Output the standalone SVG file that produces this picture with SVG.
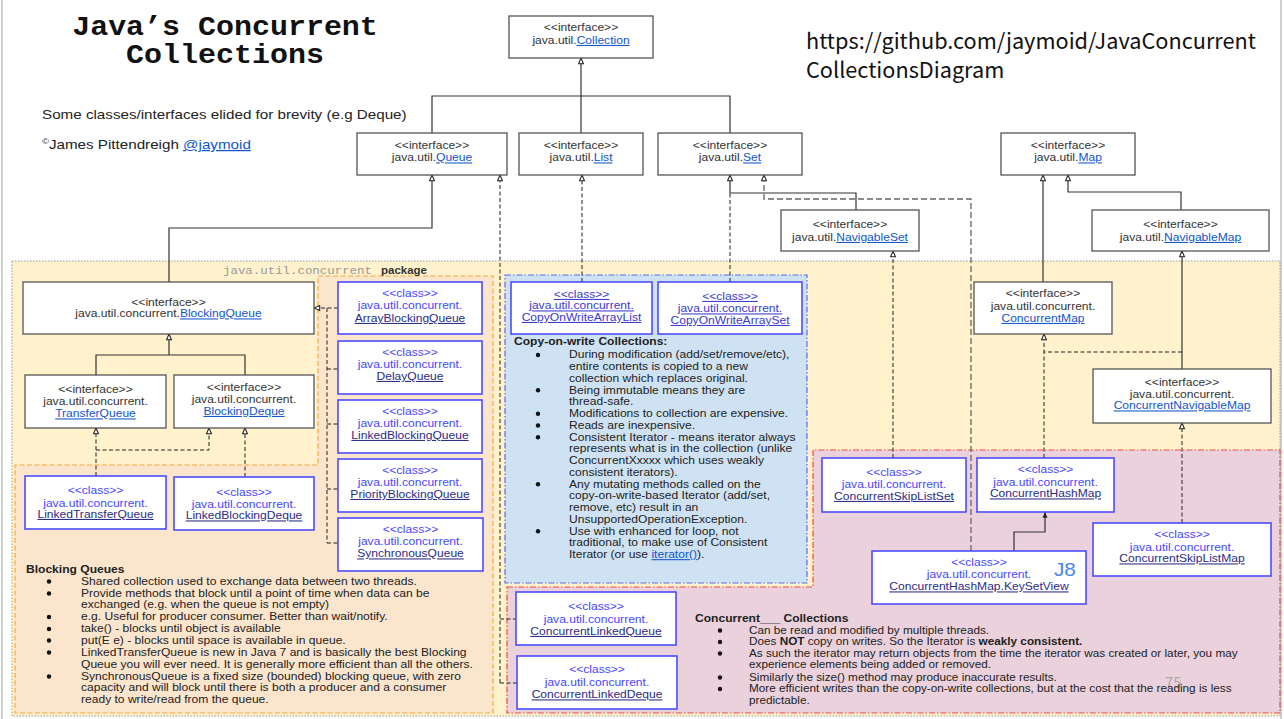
<svg xmlns="http://www.w3.org/2000/svg" width="1284" height="719" viewBox="0 0 1284 719">
<style>
text{font-family:"Liberation Sans",Arial,sans-serif}
.mono{font-family:"Liberation Mono","Courier New",monospace}
.cjk{font-family:"Noto Sans CJK SC","Noto Sans",sans-serif}
.ib{fill:#fff;stroke:#555;stroke-width:1.3}
.cb{fill:#fff;stroke:#4d4dff;stroke-width:1.6}
.t{font-size:10.5px;fill:#333;text-anchor:middle}
.lk{fill:#1155cc;text-decoration:underline}
.cl{fill:#4747ff}
.cn{fill:#2b2b85;text-decoration:underline}
.cw{fill:#3a3ad0;text-decoration:underline}
.b{font-size:10.5px;fill:#222}
.bh{font-size:10.5px;fill:#222;font-weight:bold}
.s{fill:none;stroke:#333;stroke-width:1.2}
.d{fill:none;stroke:#222;stroke-width:1;stroke-dasharray:4 2.5}
.dg{fill:none;stroke:#666;stroke-width:1.3;stroke-dasharray:6 3}
.bu{fill:#111}
</style>
<defs>
<marker id="ah" viewBox="0 0 8 8" refX="7.5" refY="4" markerWidth="7" markerHeight="7" markerUnits="userSpaceOnUse" orient="auto"><path d="M1,1.2 L7.5,4 L1,6.8 z" fill="#fff" stroke="#222" stroke-width="1.2"/></marker>
<marker id="ahf" viewBox="0 0 8 8" refX="7.5" refY="4" markerWidth="7" markerHeight="7" markerUnits="userSpaceOnUse" orient="auto"><path d="M1,1.2 L7.5,4 L1,6.8 z" fill="#222"/></marker>
</defs>
<rect width="1284" height="719" fill="#fff"/>
<line x1="2" y1="0" x2="2" y2="719" stroke="#cfcfcf" stroke-width="2"/>
<line x1="1281" y1="0" x2="1281" y2="719" stroke="#cfcfcf" stroke-width="2"/>

<!-- regions -->
<g id="regions">
<rect x="12" y="261" width="1268" height="455" fill="#fff2cc" stroke="#999" stroke-width="1" stroke-dasharray="1.5 1.5"/>
<path d="M318 276 H493 V713 H15 V465 H318 Z" fill="#fce5cd" stroke="#f5a742" stroke-width="1.2" stroke-dasharray="5 2.5"/>
<rect x="505" y="275" width="302" height="308" fill="#cfe2f3" stroke="#5a6cf0" stroke-width="1.2" stroke-dasharray="6 2 1.5 2"/>
<path d="M507 587 H813 V450 H1280 V713 H507 Z" fill="#ead1dc" stroke="#f04848" stroke-width="1.2" stroke-dasharray="6 2 1.5 2"/>
<g transform="matrix(1.13 0 0 1 223 0)"><text class="mono" x="0" y="274" font-size="11" fill="#999">java.util.concurrent</text></g>
<g transform="matrix(1.15 0 0 1 381 0)"><text x="0" y="274" font-size="10" font-weight="bold" fill="#333">package</text></g>
</g>

<!-- header texts -->
<g id="title">
<g transform="matrix(1.11 0 0 1 225 0)" font-weight="bold" font-size="27" fill="#111" text-anchor="middle">
<text class="mono" x="0" y="35">Java’s Concurrent</text>
<text class="mono" x="0" y="63.5">Collections</text>
</g>
<g transform="matrix(1.17 0 0 1 42 0)" font-size="13" fill="#222">
<text x="0" y="119.5">Some classes/interfaces elided for brevity (e.g Deque)</text>
<text x="0" y="149"><tspan font-size="8" dy="-5">©</tspan><tspan dy="5">James Pittendreigh </tspan><tspan class="lk">@jaymoid</tspan></text>
</g>
<text class="cjk" x="806" y="48.5" font-size="21.7" fill="#111">https://github.com/jaymoid/JavaConcurrent</text>
<text class="cjk" x="806" y="78" font-size="21.7" fill="#111">CollectionsDiagram</text>
<text class="cjk" x="1165" y="688" font-size="15" fill="#aaa">75</text>
</g>

<!-- connectors -->
<g id="connectors">
<path class="s" d="M432 133 V96 H730 V133"/>
<path class="s" d="M581 133 V58" marker-end="url(#ah)"/>
<path class="s" d="M169 282 V228 H432 V175" marker-end="url(#ah)"/>
<path class="s" d="M96 375 V355 H245 V375"/>
<path class="s" d="M169 355 V334" marker-end="url(#ah)"/>
<path class="s" d="M856 210 V193 H730 V175" marker-end="url(#ah)"/>
<path class="s" d="M1043 282 V175" marker-end="url(#ah)"/>
<path class="s" d="M1181 210 V192 H1068 V175" marker-end="url(#ah)"/>
<path class="s" d="M1182 369 V251" marker-end="url(#ah)"/>
<path class="s" d="M1014 551 V532 H1045 V512" marker-end="url(#ahf)"/>
<path class="d" d="M1182 352 H1044 V334" marker-end="url(#ah)"/>
<path class="d" d="M1044 458 V352"/>
<path class="d" d="M1182 523 V423" marker-end="url(#ah)"/>
<path class="d" d="M893 458 V251" marker-end="url(#ah)"/>
<path class="dg" d="M971 551 V199 H764 V175" marker-end="url(#ah)"/>
<path class="d" d="M730 282 V193"/>
<path class="d" d="M582 282 V175" marker-end="url(#ah)"/>
<path class="d" d="M500 683 V175" marker-end="url(#ah)"/>
<path class="d" d="M500 619 H516 M500 683 H517"/>
<path class="d" d="M338 308 H314" marker-end="url(#ah)"/>
<path class="d" d="M327 308 V543 M327 369 H338 M327 424 H338 M327 489 H338 M327 543 H338"/>
<path class="d" d="M96 476 V428" marker-end="url(#ah)"/>
<path class="d" d="M96 450 H209 V428" marker-end="url(#ah)"/>
<path class="d" d="M245 477 V428" marker-end="url(#ah)"/>
</g>

<!-- interface nodes -->
<g id="n-collection"><rect class="ib" x="509" y="16" width="144" height="42"/><g transform="matrix(1.15 0 0 1 581 0)"><text class="t" y="31">&lt;&lt;interface&gt;&gt;</text><text class="t" y="44">java.util.<tspan class="lk">Collection</tspan></text></g></g>
<g id="n-queue"><rect class="ib" x="357" y="133" width="150" height="42"/><g transform="matrix(1.15 0 0 1 432 0)"><text class="t" y="149">&lt;&lt;interface&gt;&gt;</text><text class="t" y="161.5">java.util.<tspan class="lk">Queue</tspan></text></g></g>
<g id="n-list"><rect class="ib" x="519" y="133" width="124" height="42"/><g transform="matrix(1.15 0 0 1 581 0)"><text class="t" y="149">&lt;&lt;interface&gt;&gt;</text><text class="t" y="161.5">java.util.<tspan class="lk">List</tspan></text></g></g>
<g id="n-set"><rect class="ib" x="658" y="133" width="144" height="42"/><g transform="matrix(1.15 0 0 1 730 0)"><text class="t" y="149">&lt;&lt;interface&gt;&gt;</text><text class="t" y="161.5">java.util.<tspan class="lk">Set</tspan></text></g></g>
<g id="n-map"><rect class="ib" x="1001" y="133" width="134" height="42"/><g transform="matrix(1.15 0 0 1 1068 0)"><text class="t" y="149">&lt;&lt;interface&gt;&gt;</text><text class="t" y="161.5">java.util.<tspan class="lk">Map</tspan></text></g></g>
<g id="n-navset"><rect class="ib" x="781" y="210" width="138" height="41"/><g transform="matrix(1.15 0 0 1 850 0)"><text class="t" y="228">&lt;&lt;interface&gt;&gt;</text><text class="t" y="241">java.util.<tspan class="lk">NavigableSet</tspan></text></g></g>
<g id="n-navmap"><rect class="ib" x="1092" y="210" width="177" height="41"/><g transform="matrix(1.15 0 0 1 1180.5 0)"><text class="t" y="228">&lt;&lt;interface&gt;&gt;</text><text class="t" y="241">java.util.<tspan class="lk">NavigableMap</tspan></text></g></g>
<g id="n-bq"><rect class="ib" x="23" y="282" width="291" height="52"/><g transform="matrix(1.15 0 0 1 168.5 0)"><text class="t" y="306">&lt;&lt;interface&gt;&gt;</text><text class="t" y="317.5">java.util.concurrent.<tspan class="lk">BlockingQueue</tspan></text></g></g>
<g id="n-tq"><rect class="ib" x="25" y="375" width="141" height="53"/><g transform="matrix(1.15 0 0 1 95.5 0)"><text class="t" y="393.5">&lt;&lt;interface&gt;&gt;</text><text class="t" y="405.5">java.util.concurrent.</text><text class="t lk" y="417.5">TransferQueue</text></g></g>
<g id="n-bd"><rect class="ib" x="174" y="375" width="140" height="53"/><g transform="matrix(1.15 0 0 1 244 0)"><text class="t" y="391">&lt;&lt;interface&gt;&gt;</text><text class="t" y="403">java.util.concurrent.</text><text class="t lk" y="415">BlockingDeque</text></g></g>
<g id="n-cmap"><rect class="ib" x="974" y="282" width="138" height="52"/><g transform="matrix(1.15 0 0 1 1043 0)"><text class="t" y="297.5">&lt;&lt;interface&gt;&gt;</text><text class="t" y="310">java.util.concurrent.</text><text class="t lk" y="322">ConcurrentMap</text></g></g>
<g id="n-cnmap"><rect class="ib" x="1093" y="369" width="178" height="54"/><g transform="matrix(1.15 0 0 1 1182 0)"><text class="t" y="386">&lt;&lt;interface&gt;&gt;</text><text class="t" y="398">java.util.concurrent.</text><text class="t lk" y="409.5">ConcurrentNavigableMap</text></g></g>

<!-- class nodes -->
<g id="n-abq"><rect class="cb" x="338" y="282" width="144" height="52"/><g transform="matrix(1.15 0 0 1 410 0)"><text class="t cl" y="297.5">&lt;&lt;class&gt;&gt;</text><text class="t cl" y="309">java.util.concurrent.</text><text class="t cn" y="322">ArrayBlockingQueue</text></g></g>
<g id="n-dq"><rect class="cb" x="338" y="341" width="144" height="53"/><g transform="matrix(1.15 0 0 1 410 0)"><text class="t cl" y="356">&lt;&lt;class&gt;&gt;</text><text class="t cl" y="368.5">java.util.concurrent.</text><text class="t cn" y="380">DelayQueue</text></g></g>
<g id="n-lbq"><rect class="cb" x="338" y="400" width="144" height="53"/><g transform="matrix(1.15 0 0 1 410 0)"><text class="t cl" y="415">&lt;&lt;class&gt;&gt;</text><text class="t cl" y="427.5">java.util.concurrent.</text><text class="t cn" y="439">LinkedBlockingQueue</text></g></g>
<g id="n-pbq"><rect class="cb" x="338" y="459" width="144" height="53"/><g transform="matrix(1.15 0 0 1 410 0)"><text class="t cl" y="474.5">&lt;&lt;class&gt;&gt;</text><text class="t cl" y="486">java.util.concurrent.</text><text class="t cn" y="498">PriorityBlockingQueue</text></g></g>
<g id="n-sq"><rect class="cb" x="338" y="518" width="145" height="53"/><g transform="matrix(1.15 0 0 1 410.5 0)"><text class="t cl" y="533">&lt;&lt;class&gt;&gt;</text><text class="t cl" y="545">java.util.concurrent.</text><text class="t cn" y="557.5">SynchronousQueue</text></g></g>
<g id="n-ltq"><rect class="cb" x="25" y="476" width="141" height="53"/><g transform="matrix(1.15 0 0 1 95.5 0)"><text class="t cl" y="494.5">&lt;&lt;class&gt;&gt;</text><text class="t cl" y="507">java.util.concurrent.</text><text class="t cn" y="518">LinkedTransferQueue</text></g></g>
<g id="n-lbd"><rect class="cb" x="174" y="477" width="140" height="53"/><g transform="matrix(1.15 0 0 1 244 0)"><text class="t cl" y="496">&lt;&lt;class&gt;&gt;</text><text class="t cl" y="508">java.util.concurrent.</text><text class="t cn" y="519.5">LinkedBlockingDeque</text></g></g>
<g id="n-cowal"><rect class="cb" x="511" y="282" width="141" height="52"/><g transform="matrix(1.15 0 0 1 581.5 0)"><text class="t cw" y="298">&lt;&lt;class&gt;&gt;</text><text class="t cw" y="309.5">java.util.concurrent.</text><text class="t cw" y="321">CopyOnWriteArrayList</text></g></g>
<g id="n-cowas"><rect class="cb" x="658" y="282" width="144" height="52"/><g transform="matrix(1.15 0 0 1 730 0)"><text class="t cw" y="300">&lt;&lt;class&gt;&gt;</text><text class="t cw" y="312.5">java.util.concurrent.</text><text class="t cw" y="324">CopyOnWriteArraySet</text></g></g>
<g id="n-csls"><rect class="cb" x="822" y="458" width="144" height="54"/><g transform="matrix(1.15 0 0 1 894 0)"><text class="t cl" y="476">&lt;&lt;class&gt;&gt;</text><text class="t cl" y="488">java.util.concurrent.</text><text class="t cn" y="500">ConcurrentSkipListSet</text></g></g>
<g id="n-chm"><rect class="cb" x="977" y="458" width="137" height="54"/><g transform="matrix(1.15 0 0 1 1045.5 0)"><text class="t cl" y="473.5">&lt;&lt;class&gt;&gt;</text><text class="t cl" y="486">java.util.concurrent.</text><text class="t cn" y="497.5">ConcurrentHashMap</text></g></g>
<g id="n-ksv"><rect class="cb" x="872" y="551" width="214" height="53"/><g transform="matrix(1.15 0 0 1 979 0)"><text class="t cl" y="566">&lt;&lt;class&gt;&gt;</text><text class="t cl" y="578.5">java.util.concurrent.</text><text class="t cn" y="590.5">ConcurrentHashMap.KeySetView</text></g><g transform="matrix(1.15 0 0 1 1054 0)"><text x="0" y="576" font-size="18" fill="#4a86e8">J8</text></g></g>
<g id="n-cslm"><rect class="cb" x="1093" y="523" width="178" height="53"/><g transform="matrix(1.15 0 0 1 1182 0)"><text class="t cl" y="538.5">&lt;&lt;class&gt;&gt;</text><text class="t cl" y="551">java.util.concurrent.</text><text class="t cn" y="562.5">ConcurrentSkipListMap</text></g></g>
<g id="n-clq"><rect class="cb" x="516" y="592" width="160" height="53"/><g transform="matrix(1.15 0 0 1 596 0)"><text class="t cl" y="610">&lt;&lt;class&gt;&gt;</text><text class="t cl" y="623">java.util.concurrent.</text><text class="t cn" y="635">ConcurrentLinkedQueue</text></g></g>
<g id="n-cld"><rect class="cb" x="517" y="656" width="160" height="53"/><g transform="matrix(1.15 0 0 1 597 0)"><text class="t cl" y="673.5">&lt;&lt;class&gt;&gt;</text><text class="t cl" y="686">java.util.concurrent.</text><text class="t cn" y="698.5">ConcurrentLinkedDeque</text></g></g>

<!-- notes -->
<g id="note-blocking">
<g transform="matrix(1.15 0 0 1 26 0)"><text class="bh" x="0" y="573">Blocking Queues</text></g>
<circle class="bu" cx="49" cy="581.5" r="2.2"/><circle class="bu" cx="49" cy="593.5" r="2.2"/><circle class="bu" cx="49" cy="617" r="2.2"/><circle class="bu" cx="49" cy="629" r="2.2"/><circle class="bu" cx="49" cy="640.5" r="2.2"/><circle class="bu" cx="49" cy="652.5" r="2.2"/><circle class="bu" cx="49" cy="676.5" r="2.2"/>
<g transform="matrix(1.15 0 0 1 81 0)">
<text class="b" x="0" y="585">Shared collection used to exchange data between two threads.</text>
<text class="b" x="0" y="597">Provide methods that block until a point of time when data can be</text>
<text class="b" x="0" y="608.5">exchanged (e.g. when the queue is not empty)</text>
<text class="b" x="0" y="620.5">e.g. Useful for producer consumer. Better than wait/notify.</text>
<text class="b" x="0" y="632.5">take() - blocks until object is available</text>
<text class="b" x="0" y="644">put(E e) - blocks until space is available in queue.</text>
<text class="b" x="0" y="656">LinkedTransferQueue is new in Java 7 and is basically the best Blocking</text>
<text class="b" x="0" y="668">Queue you will ever need. It is generally more efficient than all the others.</text>
<text class="b" x="0" y="680">SynchronousQueue is a fixed size (bounded) blocking queue, with zero</text>
<text class="b" x="0" y="691.5">capacity and will block until there is both a producer and a consumer</text>
<text class="b" x="0" y="703.5">ready to write/read from the queue.</text>
</g>
</g>

<g id="note-cow">
<g transform="matrix(1.15 0 0 1 514 0)"><text class="bh" x="0" y="345">Copy-on-write Collections:</text></g>
<circle class="bu" cx="538" cy="355" r="2.2"/><circle class="bu" cx="538" cy="390.25" r="2.2"/><circle class="bu" cx="538" cy="413.75" r="2.2"/><circle class="bu" cx="538" cy="425.5" r="2.2"/><circle class="bu" cx="538" cy="437.25" r="2.2"/><circle class="bu" cx="538" cy="484.25" r="2.2"/><circle class="bu" cx="538" cy="531.25" r="2.2"/>
<g transform="matrix(1.15 0 0 1 569 0)">
<text class="b" x="0" y="358.5">During modification (add/set/remove/etc),</text>
<text class="b" x="0" y="370.25">entire contents is copied to a new</text>
<text class="b" x="0" y="382">collection which replaces original.</text>
<text class="b" x="0" y="393.75">Being immutable means they are</text>
<text class="b" x="0" y="405.5">thread-safe.</text>
<text class="b" x="0" y="417.25">Modifications to collection are expensive.</text>
<text class="b" x="0" y="429">Reads are inexpensive.</text>
<text class="b" x="0" y="440.75">Consistent Iterator - means iterator always</text>
<text class="b" x="0" y="452.5">represents what is in the collection (unlike</text>
<text class="b" x="0" y="464.25">ConcurrentXxxxx which uses weakly</text>
<text class="b" x="0" y="476">consistent iterators).</text>
<text class="b" x="0" y="487.75">Any mutating methods called on the</text>
<text class="b" x="0" y="499.5">copy-on-write-based Iterator (add/set,</text>
<text class="b" x="0" y="511.25">remove, etc) result in an</text>
<text class="b" x="0" y="523">UnsupportedOperationException.</text>
<text class="b" x="0" y="534.75">Use with enhanced for loop, not</text>
<text class="b" x="0" y="546.5">traditional, to make use of Consistent</text>
<text class="b" x="0" y="558.25">Iterator (or use <tspan class="lk">iterator()</tspan>).</text>
</g>
</g>

<g id="note-concurrent">
<g transform="matrix(1.15 0 0 1 695 0)"><text class="bh" x="0" y="622.5">Concurrent___ Collections</text></g>
<circle class="bu" cx="720" cy="630.5" r="2.2"/><circle class="bu" cx="720" cy="642" r="2.2"/><circle class="bu" cx="720" cy="653.5" r="2.2"/><circle class="bu" cx="720" cy="677.5" r="2.2"/><circle class="bu" cx="720" cy="689" r="2.2"/>
<g transform="matrix(1.12 0 0 1 749 0)">
<text class="b" x="0" y="634">Can be read and modified by multiple threads.</text>
<text class="b" x="0" y="645.5">Does <tspan font-weight="bold">NOT</tspan> copy on writes. So the Iterator is <tspan font-weight="bold">weakly consistent.</tspan></text>
<text class="b" x="0" y="657">As such the iterator may return objects from the time the iterator was created or later, you may</text>
<text class="b" x="0" y="668.5">experience elements being added or removed.</text>
<text class="b" x="0" y="681">Similarly the size() method may produce inaccurate results.</text>
<text class="b" x="0" y="692.5">More efficient writes than the copy-on-write collections, but at the cost that the reading is less</text>
<text class="b" x="0" y="704">predictable.</text>
</g>
</g>
</svg>
